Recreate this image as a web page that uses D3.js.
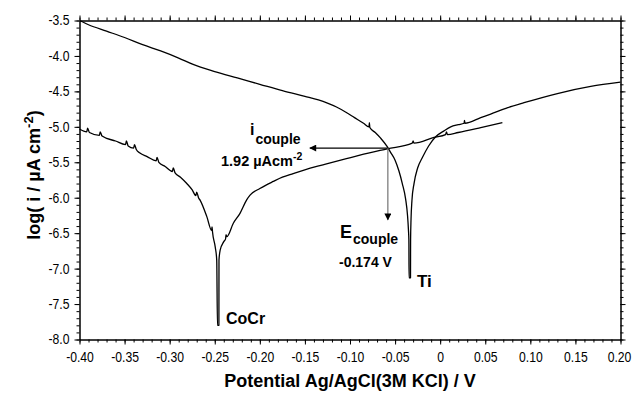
<!DOCTYPE html>
<html>
<head>
<meta charset="utf-8">
<script src="https://cdn.jsdelivr.net/npm/d3@7/dist/d3.min.js"></script>
<style>
  html, body { margin: 0; padding: 0; background: #fff; }
  svg { display: block; font-family: "Liberation Sans", Arial, sans-serif; }
  .tick text { font-size: 14px; fill: #000; }
  .bold { font-weight: bold; fill: #000; }
</style>
</head>
<body>
<svg id="chart" width="632" height="394"></svg>
<script>
// Potentiodynamic polarisation curves: potential (V vs Ag/AgCl) and log current density
const tiPotential = [
  -0.400, -0.390, -0.370, -0.350, -0.330, -0.310, -0.290, -0.274, -0.250, -0.225,
  -0.200, -0.175, -0.150, -0.135, -0.125, -0.115, -0.105, -0.095, -0.085, -0.0790,
  -0.0785, -0.0780, -0.072, -0.066, -0.0587, -0.055, -0.050, -0.0458, -0.042, -0.0383,
  -0.0362, -0.0352, -0.0347, -0.0345, -0.0329, -0.0328, -0.0323, -0.0313, -0.0290, -0.0250,
  -0.0200, -0.0128, -0.0050, 0.0039, 0.0117, 0.0200, 0.0265, 0.0270, 0.0275, 0.0450,
  0.0560, 0.0750, 0.0930, 0.1300, 0.1670, 0.2000
];
const tiLogI = [
  -3.50, -3.56, -3.65, -3.74, -3.84, -3.93, -4.03, -4.12, -4.22, -4.31,
  -4.40, -4.49, -4.57, -4.62, -4.665, -4.72, -4.79, -4.87, -4.95, -5.00,
  -4.94, -5.01, -5.08, -5.16, -5.28, -5.36, -5.47, -5.62, -5.80, -6.02,
  -6.25, -6.45, -6.60, -7.13, -7.13, -6.60, -6.30, -6.04, -5.80, -5.58,
  -5.44, -5.27, -5.14, -5.06, -5.00, -4.97, -4.95, -4.91, -4.95, -4.87,
  -4.82, -4.73, -4.66, -4.53, -4.43, -4.37
];

const cocrPotential = [
  -0.400, -0.392, -0.391, -0.389, -0.378, -0.377, -0.375, -0.360, -0.349, -0.348,
  -0.346, -0.340, -0.339, -0.337, -0.333, -0.325, -0.315, -0.314, -0.312, -0.305,
  -0.297, -0.296, -0.294, -0.288, -0.281, -0.275, -0.271, -0.270, -0.268, -0.266,
  -0.2587, -0.2535, -0.2530, -0.2525, -0.2494, -0.2478, -0.2470, -0.2454, -0.2453, -0.2440,
  -0.2400, -0.2380, -0.2375, -0.2367, -0.2294, -0.2220, -0.2146, -0.2106, -0.2000, -0.1850,
  -0.1750, -0.1630, -0.1400, -0.1250, -0.1040, -0.0890, -0.0587, -0.0310, -0.0300, -0.0290,
  -0.0069, 0.0060, 0.0070, 0.0080, 0.0200, 0.0450, 0.0690
];
const cocrLogI = [
  -5.03, -5.07, -5.02, -5.08, -5.12, -5.07, -5.13, -5.20, -5.25, -5.20,
  -5.27, -5.30, -5.25, -5.32, -5.37, -5.42, -5.48, -5.43, -5.50, -5.56,
  -5.63, -5.58, -5.65, -5.71, -5.80, -5.89, -5.97, -5.92, -6.00, -6.04,
  -6.27, -6.46, -6.41, -6.48, -6.70, -6.88, -7.80, -7.80, -6.88, -6.74,
  -6.62, -6.58, -6.52, -6.55, -6.36, -6.22, -6.03, -5.96, -5.87, -5.77,
  -5.71, -5.66, -5.57, -5.52, -5.45, -5.40, -5.31, -5.23, -5.20, -5.23,
  -5.15, -5.11, -5.07, -5.11, -5.08, -5.01, -4.94
];

// Axis ticks and labels
const xMajorTicks = [-0.40, -0.35, -0.30, -0.25, -0.20, -0.15, -0.10, -0.05, 0, 0.05, 0.10, 0.15, 0.20];
const xTickLabels = ["-0.40", "-0.35", "-0.30", "-0.25", "-0.20", "-0.15", "-0.10", "-0.05", "0", "0.05", "0.10", "0.15", "0.20"];
const yMajorTicks = [-3.5, -4.0, -4.5, -5.0, -5.5, -6.0, -6.5, -7.0, -7.5, -8.0];
const yTickLabels = ["-3.5", "-4.0", "-4.5", "-5.0", "-5.5", "-6.0", "-6.5", "-7.0", "-7.5", "-8.0"];

// Galvanic couple point (intersection of Ti cathodic and CoCr anodic branches)
const couplePoint = { E: -0.058, logI: -5.30 };
const coupleLabelCurrent = "1.92";
const coupleLabelPotential = "-0.174 V";

const svg = d3.select("#chart");
const plot = { left: 79.5, right: 620.5, top: 20.5, bottom: 339.5 };
const labelSquash = 0.87;   // narrow tick-label lettering

const x = d3.scaleLinear().domain([-0.40, 0.20]).range([plot.left, plot.right]);
const y = d3.scaleLinear().domain([-3.5, -8.0]).range([plot.top, plot.bottom]);

const xMinor = d3.range(-40, 21).map(v => v / 100);
const yMinor = d3.range(-80, -34).map(v => v / 10);

function styleAxis(g) {
  g.selectAll("path.domain").attr("stroke", "#000").attr("stroke-width", 1);
  g.selectAll(".tick line").attr("stroke", "#000").attr("stroke-width", 1);
}

// minor ticks on all four sides
svg.append("g").attr("transform", `translate(0,${plot.bottom})`)
  .call(d3.axisBottom(x).tickValues(xMinor).tickSize(3).tickSizeOuter(0).tickFormat(""))
  .call(styleAxis);
svg.append("g").attr("transform", `translate(0,${plot.top})`)
  .call(d3.axisTop(x).tickValues(xMinor).tickSize(3).tickSizeOuter(0).tickFormat(""))
  .call(styleAxis);
svg.append("g").attr("transform", `translate(${plot.left},0)`)
  .call(d3.axisLeft(y).tickValues(yMinor).tickSize(3).tickSizeOuter(0).tickFormat(""))
  .call(styleAxis);
svg.append("g").attr("transform", `translate(${plot.right},0)`)
  .call(d3.axisRight(y).tickValues(yMinor).tickSize(3).tickSizeOuter(0).tickFormat(""))
  .call(styleAxis);

// major ticks with labels
const xAxisG = svg.append("g").attr("transform", `translate(0,${plot.bottom})`)
  .call(d3.axisBottom(x).tickValues(xMajorTicks).tickSize(5).tickSizeOuter(0).tickPadding(8)
    .tickFormat((d, i) => xTickLabels[i]))
  .call(styleAxis);
svg.append("g").attr("transform", `translate(0,${plot.top})`)
  .call(d3.axisTop(x).tickValues(xMajorTicks).tickSize(5).tickSizeOuter(0).tickFormat(""))
  .call(styleAxis);
const yAxisG = svg.append("g").attr("transform", `translate(${plot.left},0)`)
  .call(d3.axisLeft(y).tickValues(yMajorTicks).tickSize(5).tickSizeOuter(0).tickPadding(5)
    .tickFormat((d, i) => yTickLabels[i]))
  .call(styleAxis);
svg.append("g").attr("transform", `translate(${plot.right},0)`)
  .call(d3.axisRight(y).tickValues(yMajorTicks).tickSize(5).tickSizeOuter(0).tickFormat(""))
  .call(styleAxis);

svg.selectAll(".tick text").attr("font-family", null).attr("font-size", null);

// narrow the tick labels horizontally, keeping their anchors in place
xAxisG.selectAll(".tick text")
  .attr("x", (d, i) => (i === xMajorTicks.length - 1 ? -1.5 : 0) / labelSquash)
  .attr("transform", `scale(${labelSquash},1)`);
yAxisG.selectAll(".tick text")
  .attr("x", -10 / labelSquash)
  .attr("transform", `scale(${labelSquash},1)`);

// curves
const line = d3.line().x(d => x(d[0])).y(d => y(d[1])).curve(d3.curveMonotoneX);
const tiPoints = tiPotential.map((e, i) => [e, tiLogI[i]]);
const cocrPoints = cocrPotential.map((e, i) => [e, cocrLogI[i]]);

svg.append("path").datum(tiPoints)
  .attr("d", line).attr("fill", "none").attr("stroke", "#000")
  .attr("stroke-width", 1.3).attr("stroke-linejoin", "round");
svg.append("path").datum(cocrPoints)
  .attr("d", line).attr("fill", "none").attr("stroke", "#000")
  .attr("stroke-width", 1.3).attr("stroke-linejoin", "round");

// arrowheads
const defs = svg.append("defs");
defs.append("marker").attr("id", "headBlack")
  .attr("viewBox", "0 0 10 10").attr("refX", 9).attr("refY", 5)
  .attr("markerWidth", 8).attr("markerHeight", 7).attr("markerUnits", "userSpaceOnUse")
  .attr("orient", "auto")
  .append("path").attr("d", "M0,0 L10,5 L0,10 Z").attr("fill", "#000");

// horizontal arrow to current axis, vertical arrow to potential
const cx = x(couplePoint.E), cy = y(couplePoint.logI);
svg.append("line")
  .attr("x1", cx).attr("y1", cy).attr("x2", x(-0.1445)).attr("y2", cy)
  .attr("stroke", "#000").attr("stroke-width", 1.1)
  .attr("marker-end", "url(#headBlack)");
svg.append("line")
  .attr("x1", cx).attr("y1", cy).attr("x2", cx).attr("y2", y(-6.31))
  .attr("stroke", "#666").attr("stroke-width", 1.1)
  .attr("marker-end", "url(#headBlack)");

// annotation texts
const iLabel = svg.append("text").attr("class", "bold")
  .attr("x", x(-0.2109)).attr("y", y(-5.115));
iLabel.append("tspan").attr("font-size", "16px").text("i");
iLabel.append("tspan").attr("font-size", "14px").attr("dy", 9).attr("dx", 1).text("couple");

const curLabel = svg.append("text").attr("class", "bold")
  .attr("x", x(-0.2431)).attr("y", y(-5.552)).attr("font-size", "14.5px");
curLabel.append("tspan").text(coupleLabelCurrent + " \u00b5Acm");
curLabel.append("tspan").attr("font-size", "10.5px").attr("dy", -6).text("-2");

const eLabel = svg.append("text").attr("class", "bold")
  .attr("x", x(-0.1111)).attr("y", y(-6.568));
eLabel.append("tspan").attr("font-size", "18px").text("E");
eLabel.append("tspan").attr("font-size", "14px").attr("dy", 6).attr("dx", 1).text("couple");

svg.append("text").attr("class", "bold")
  .attr("x", x(-0.1122)).attr("y", y(-6.977)).attr("font-size", "14px")
  .text(coupleLabelPotential);

svg.append("text").attr("class", "bold")
  .attr("x", x(-0.0257)).attr("y", y(-7.259)).attr("font-size", "17px")
  .text("Ti");
svg.append("text").attr("class", "bold")
  .attr("x", x(-0.2375)).attr("y", y(-7.781)).attr("font-size", "16px")
  .text("CoCr");

// axis titles
svg.append("text").attr("class", "bold")
  .attr("x", (plot.left + plot.right) / 2).attr("y", 387)
  .attr("text-anchor", "middle").attr("font-size", "18px")
  .text("Potential  Ag/AgCl(3M KCl) / V");

const yTitle = svg.append("text").attr("class", "bold")
  .attr("transform", `translate(40,175) rotate(-90)`)
  .attr("text-anchor", "middle").attr("font-size", "18px");
yTitle.append("tspan").text("log( i / \u00b5A cm");
yTitle.append("tspan").attr("font-size", "13px").attr("dy", -7).text("-2");
yTitle.append("tspan").attr("dy", 7).text(")");
</script>
</body>
</html>
